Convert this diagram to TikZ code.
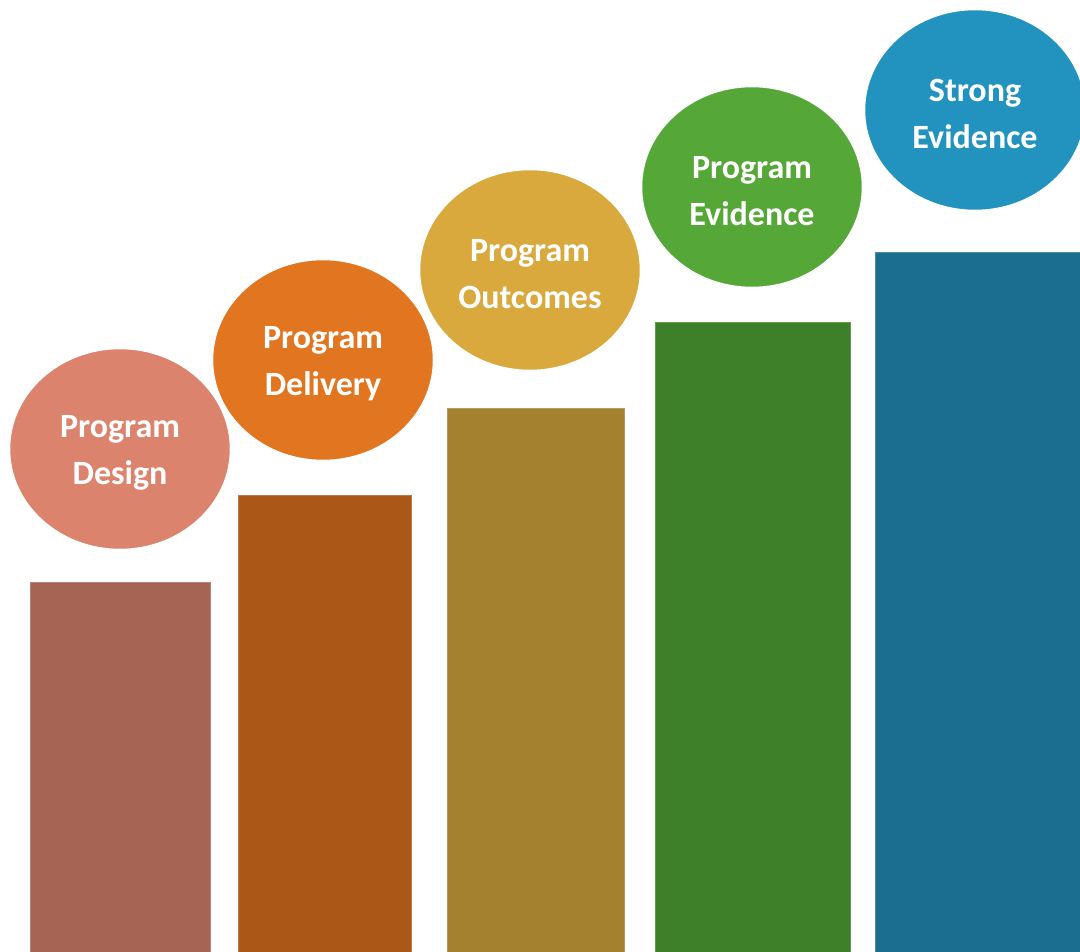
\documentclass[tikz,border=0pt]{standalone}
\usepackage{fontspec}
\setmainfont{Carlito}
\usetikzlibrary{shapes.geometric}
\definecolor{barA}{HTML}{A66554}
\definecolor{ballA}{HTML}{DB836D}
\definecolor{barB}{HTML}{AB5718}
\definecolor{ballB}{HTML}{E2751F}
\definecolor{barC}{HTML}{A4812F}
\definecolor{ballC}{HTML}{D9A93D}
\definecolor{barD}{HTML}{3E7F29}
\definecolor{ballD}{HTML}{55A737}
\definecolor{barE}{HTML}{1B6E90}
\definecolor{ballE}{HTML}{2293BE}
\tikzset{
  bar/.style={rectangle,anchor=north west,inner sep=0pt,draw=#1!80!white,line width=1.2pt,fill=#1},
  ball/.style={ellipse,inner sep=0pt,minimum width=222pt,minimum height=202pt,draw=white,line width=2.5pt,fill=#1},
  balltext/.style={text=white,align=center,inner sep=0pt,yshift=-4pt,font=\fontsize{34}{47}\selectfont\bfseries}
}

\begin{document}
\begin{tikzpicture}[x=1pt,y=-1pt]
    \useasboundingbox (0,0) rectangle (1080,952);
    \clip (0,0) rectangle (1080,952);

    \node (b1) at (30,582) [bar=barA,minimum width=180pt,minimum height=380pt] {};
    \node (b2) at (238,495) [bar=barB,minimum width=173pt,minimum height=467pt] {};
    \node (b3) at (447,408) [bar=barC,minimum width=177pt,minimum height=554pt] {};
    \node (b4) at (655,322) [bar=barD,minimum width=195pt,minimum height=640pt] {};
    \node (b5) at (875,252) [bar=barE,minimum width=205pt,minimum height=710pt] {};

    \node (e1) at (120,449) [ball=ballA] {};
    \node (t1) at (e1) [balltext] {Program\\Design};
    \node (e2) at (323,360) [ball=ballB] {};
    \node (t2) at (e2) [balltext] {Program\\Delivery};
    \node (e3) at (530,270) [ball=ballC] {};
    \node (t3) at (e3) [balltext] {Program\\Outcomes};
    \node (e4) at (752,187) [ball=ballD] {};
    \node (t4) at (e4) [balltext] {Program\\Evidence};
    \node (e5) at (975,110) [ball=ballE] {};
    \node (t5) at (e5) [balltext] {Strong\\Evidence};
\end{tikzpicture}
\end{document}
